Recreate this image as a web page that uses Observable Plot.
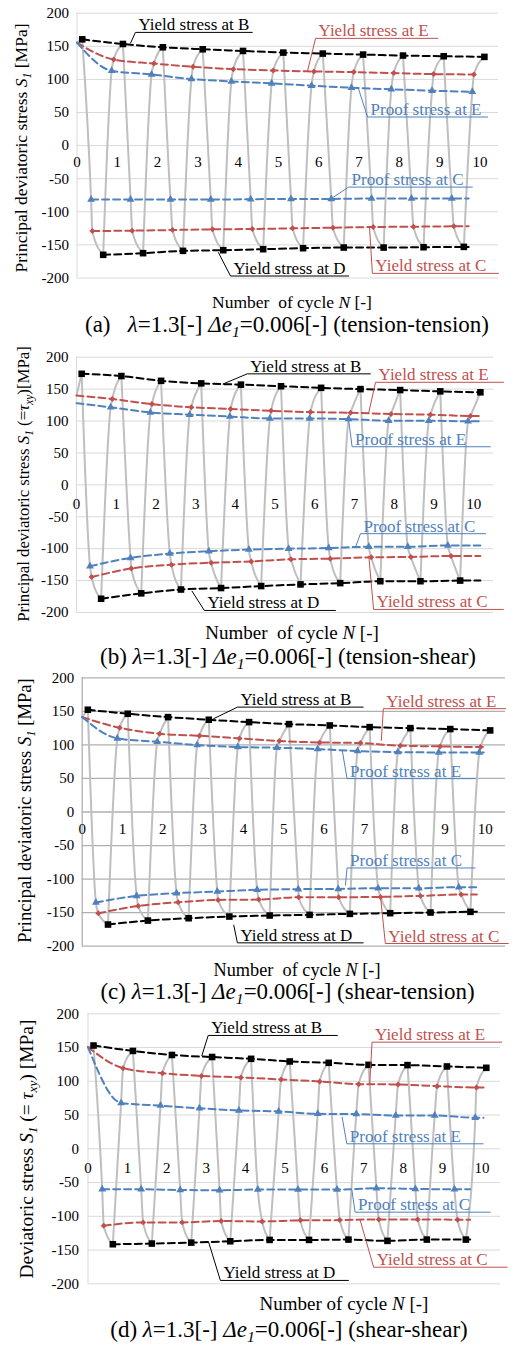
<!DOCTYPE html>
<html><head><meta charset="utf-8">
<script src="https://cdn.jsdelivr.net/npm/d3@7"></script>
<script src="https://cdn.jsdelivr.net/npm/@observablehq/plot@0.6"></script>
<style>
html,body{margin:0;padding:0;background:#fff;}
#chart{width:517px;}
#chart svg{display:block;overflow:visible;}
</style></head><body><div id="chart"></div>
<script>
// ---------- shared tick labels and annotation texts ----------
const cycleTicks = [0,1,2,3,4,5,6,7,8,9,10];
const stressTicks = [-200,-150,-100,-50,0,50,100,150,200];
const noteLabels = {
  B: "Yield stress at B", E: "Yield stress at E", PE: "Proof stress at E",
  PC: "Proof stress at C", C: "Yield stress at C", D: "Yield stress at D"
};

// ---------- panel (a) tension-tension ----------  [cycle N, stress MPa]
const aYieldB = [[0.13,160.5],[1.14,153.5],[2.13,148.5],[3.12,145.5],[4.12,143],[5.12,140.5],[6.1,139],[7.1,137.5],[8.09,136],[9.1,135],[10.11,134]];
const aYieldE = [[0,155.5],[0.91,130],[1.91,124],[2.88,119],[3.88,115.5],[4.87,113.5],[5.88,112],[6.87,111],[7.86,109.5],[8.85,108],[9.85,107.5]];
const aProofE = [[0,155.5],[0.86,113],[1.85,107.5],[2.84,100.5],[3.83,97],[4.83,94],[5.82,90.5],[6.81,87.5],[7.8,85],[8.81,83],[9.81,81.5]];
const aProofC = [[0.35,-81.5],[1.33,-81.5],[2.32,-81.5],[3.32,-81.5],[4.31,-81],[5.31,-80.5],[6.31,-80.5],[7.31,-80],[8.3,-80],[9.3,-80]];
const aYieldC = [[0.38,-129],[1.37,-128.5],[2.37,-127.5],[3.36,-126.5],[4.35,-126],[5.35,-125],[6.35,-124],[7.35,-123],[8.35,-122.5],[9.35,-122]];
const aYieldD = [[0.65,-165],[1.64,-162.5],[2.63,-159],[3.63,-158],[4.62,-156.5],[5.61,-155],[6.62,-154],[7.61,-154],[8.6,-153.5],[9.6,-153]];
const aLineEnds = [9.85, 9.72];
const aYTitle = [["Principal deviatoric stress ",0],["S",1],["1",1,1],[" [MPa]",0]];
const aXTitle = [["Number  of cycle ",0],["N",1],[" [-]",0]];
const aCaption = [["(a)   ",0],["λ",1],["=1.3[-] ",0],["Δe",1],["1",1,1],["=0.006[-] (tension-tension)",0]];

// ---------- panel (b) tension-shear ----------
const bYieldB = [[0.13,174],[1.13,170.5],[2.13,163],[3.14,159],[4.14,157],[5.15,154.5],[6.16,152],[7.15,150],[8.15,148.5],[9.16,146.5],[10.17,145]];
const bYieldE = [[0,140],[0.9,134.5],[1.9,126.5],[2.89,121.5],[3.88,119],[4.9,116],[5.89,114],[6.9,113],[7.92,111],[8.91,110],[9.92,108]];
const bProofE = [[0,128],[0.86,121.5],[1.86,113.5],[2.85,110],[3.86,107],[4.87,104],[5.87,104],[6.85,103],[7.86,100.5],[8.87,100.5],[9.86,99.5]];
const bProofC = [[0.34,-127.5],[1.36,-114.5],[2.35,-107.7],[3.33,-104],[4.34,-101.4],[5.34,-100],[6.35,-99],[7.36,-97],[8.34,-97],[9.35,-95]];
const bYieldC = [[0.38,-144.5],[1.38,-131],[2.39,-125],[3.39,-122],[4.4,-120],[5.4,-116.6],[6.39,-115.6],[7.42,-113.5],[8.42,-113],[9.43,-111.4]];
const bYieldD = [[0.62,-178.5],[1.63,-170],[2.63,-164],[3.64,-161.7],[4.65,-158.6],[5.64,-156],[6.64,-154],[7.65,-151],[8.66,-151],[9.66,-150]];
const bLineEnds = [10.17, 10.17];
const bYTitle = [["Principal deviatoric stress ",0],["S",1],["1",1,1],[" (=",0],["τ",1],["xy",1,1],[")[MPa]",0]];
const bXTitle = [["Number  of cycle ",0],["N",1],[" [-]",0]];
const bCaption = [["(b) ",0],["λ",1],["=1.3[-] ",0],["Δe",1],["1",1,1],["=0.006[-] (tension-shear)",0]];

// ---------- panel (c) shear-tension ----------
const cYieldB = [[0.14,152.4],[1.13,146.4],[2.13,141.4],[3.14,137.5],[4.14,134],[5.13,131],[6.14,129],[7.13,126.5],[8.14,125],[9.13,123.6],[10.12,121.6]];
const cYieldE = [[0,141.4],[0.93,125.5],[1.92,116.6],[2.91,113.6],[3.9,109.7],[4.89,105.7],[5.89,103.7],[6.9,102.7],[7.89,98.8],[8.88,97.8],[9.88,96.8]];
const cProofE = [[0,141.4],[0.87,109.7],[1.86,104.7],[2.85,99.8],[3.86,96.8],[4.83,95.8],[5.84,93.8],[6.83,90.8],[7.83,89.3],[8.84,88.8],[9.85,88.8]];
const cProofC = [[0.34,-135],[1.35,-125],[2.34,-121],[3.35,-118.5],[4.34,-116],[5.36,-115],[6.35,-114.6],[7.34,-113.6],[8.35,-113.6],[9.34,-112]];
const cYieldC = [[0.4,-151],[1.39,-140],[2.38,-134.5],[3.37,-131],[4.38,-130.5],[5.37,-127],[6.36,-127],[7.4,-126.5],[8.39,-125],[9.4,-123]];
const cYieldD = [[0.64,-167.7],[1.63,-161.8],[2.64,-158.3],[3.65,-155.8],[4.65,-154.3],[5.64,-153.3],[6.64,-151.8],[7.64,-150.8],[8.64,-149.8],[9.63,-148.8]];
const cLineEnds = [9.96, 9.79];
const cYTitle = [["Principal deviatoric stress ",0],["S",1],["1",1,1],[" [MPa]",0]];
const cXTitle = [["Number  of cycle ",0],["N",1],[" [-]",0]];
const cCaption = [["(c) ",0],["λ",1],["=1.3[-] ",0],["Δe",1],["1",1,1],["=0.006[-] (shear-tension)",0]];

// ---------- panel (d) shear-shear ----------
const dYieldB = [[0.14,153],[1.14,145],[2.13,139],[3.15,136],[4.14,133.3],[5.12,129.4],[6.11,127.4],[7.12,124.4],[8.11,124],[9.11,122],[10.11,120]];
const dYieldE = [[0,150.6],[0.89,119.5],[1.89,112],[2.88,108],[3.88,105.7],[4.9,102.7],[5.88,99.8],[6.87,95.8],[7.87,95.3],[8.86,92.8],[9.86,90.9]];
const dProofE = [[0,150.6],[0.84,68],[1.84,64],[2.83,60],[3.83,56.8],[4.84,55.3],[5.83,51.8],[6.81,51.4],[7.81,49.4],[8.8,49.4],[9.83,46]];
const dProofC = [[0.36,-60],[1.35,-60],[2.34,-61],[3.34,-61.4],[4.31,-60.4],[5.33,-60.4],[6.32,-60.4],[7.32,-58.5],[8.31,-59.4],[9.3,-60]];
const dYieldC = [[0.4,-114],[1.4,-109],[2.39,-109],[3.38,-107],[4.42,-107.6],[5.39,-106],[6.39,-105.6],[7.38,-104.6],[8.37,-104.6],[9.38,-105]];
const dYieldD = [[0.63,-141.4],[1.62,-140.4],[2.62,-139],[3.61,-137],[4.61,-135],[5.61,-135],[6.61,-134.5],[7.6,-136.4],[8.6,-134.5],[9.59,-134.5]];
const dLineEnds = [10.04, 9.7];
const dYTitle = [["Deviatoric stress ",0],["S",1],["1",1,1],[" (= ",0],["τ",1],["xy",1,1],[") [MPa]",0]];
const dXTitle = [["Number of cycle ",0],["N",1],[" [-]",0]];
const dCaption = [["(d) ",0],["λ",1],["=1.3[-] ",0],["Δe",1],["1",1,1],["=0.006[-] (shear-shear)",0]];

// ---------- colours ----------
const RED = "#c0504d", BLUE = "#4f81bd", BLACK = "#000000", GRAY = "#bfbfbf";
const noteColors = {B: BLACK, E: RED, PE: BLUE, PC: BLUE, C: RED, D: BLACK};

// ---------- layout (annotation anchors in data coordinates: underline x1..x2 at y, leader to tx,ty) ----------
const panels = [
  {B:aYieldB,E:aYieldE,PE:aProofE,PC:aProofC,C:aYieldC,D:aYieldD,ends:aLineEnds,yTitle:aYTitle,xTitle:aXTitle,caption:aCaption,
   height:340, mt:12.7, mb:62.5, ml:76.5, mr:19, xMax:10.46, grid:"#d9d9d9", gw:1, tickDy:17, tickPad:8,
   yt:{x:27,y:148,s:17.5}, xt:{x:292,y:308,s:17.5}, cap:{x:287,y:332,s:23},
   notes:{B:[1.45,4.35,171,1.33,155],E:[5.92,8.95,162,5.72,112.5],PE:[7.21,10.19,43.2,6.98,87],PC:[6.74,9.81,-62.7,6.34,-78.8],C:[7.33,10.46,-193,7.26,-124],D:[3.81,6.74,-197,3.51,-161.6]}},
  {B:bYieldB,E:bYieldE,PE:bProofE,PC:bProofC,C:bYieldC,D:bYieldD,ends:bLineEnds,yTitle:bYTitle,xTitle:bXTitle,caption:bCaption,
   height:330, mt:16.7, mb:58, ml:76, mr:24, xMax:10.5, grid:"#d9d9d9", gw:1, tickDy:19, tickPad:8,
   yt:{x:29,y:144,s:16.8}, xt:{x:292,y:299,s:19}, cap:{x:288,y:323.5,s:23},
   notes:{B:[4.3,7.4,173.9,3.69,158],E:[7.53,10.75,160.7,7.36,113.5],PE:[6.94,10.42,59.7,6.85,103],PC:[7.15,10.3,-76.5,7.02,-98.5],C:[7.48,10.75,-195.2,7.36,-111.5],D:[3.22,6.52,-196.8,2.91,-166.7]}},
  {B:cYieldB,E:cYieldE,PE:cProofE,PC:cProofC,C:cYieldC,D:cYieldD,ends:cLineEnds,yTitle:cYTitle,xTitle:cXTitle,caption:cCaption,
   height:335, mt:7.3, mb:59.3, ml:81.7, mr:12, xMax:10.5, grid:"#b0b0b0", gw:1.3, tickDy:17.5, tickPad:8,
   yt:{x:31,y:140.5,s:18.6}, xt:{x:297,y:305.7,s:18.3}, cap:{x:287.5,y:328.5,s:23},
   notes:{B:[3.85,6.97,156.3,3.26,139],E:[7.47,10.5,154,7.42,106.7],PE:[6.57,9.75,49.7,6.45,91.9],PC:[6.57,9.75,-83.4,6.53,-109],C:[7.52,10.57,-196,7.4,-126.5],D:[3.85,6.97,-195,3.76,-168.7]}},
  {B:dYieldB,E:dYieldE,PE:dProofE,PC:dProofC,C:dYieldC,D:dYieldD,ends:dLineEnds,yTitle:dYTitle,xTitle:dXTitle,caption:dCaption,
   height:340, mt:8.3, mb:61.7, ml:87.5, mr:17, xMax:10.47, grid:"#d9d9d9", gw:1, tickDy:19, tickPad:9,
   yt:{x:33,y:144,s:19.5}, xt:{x:344,y:305,s:19}, cap:{x:289,y:332,s:23},
   notes:{B:[3.05,6.33,167.9,2.89,138],E:[7.21,10.5,158,7.15,96.3],PE:[6.57,10.03,7.4,6.45,46.8],PC:[6.78,10.21,-93.9,6.7,-61.8],C:[7.25,10.64,-175.4,6.91,-106],D:[3.36,6.61,-195,3.06,-138]}}
];

function withEnd(arr, end) {
  const last = arr[arr.length - 1];
  return end > last[0] + 0.01 ? [...arr, [end, last[1]]] : arr;
}

function grayPath(p) {
  const out = []; let z = 0;
  const push = pts => { pts.forEach(q => out.push({x: q[0], y: q[1], z})); z++; };
  push([p.E[0], p.B[0]]);
  for (let i = 0; i < p.D.length; i++) {
    push([p.B[i], p.PC[i], p.C[i], p.D[i]]);
    push([p.D[i], p.PE[i + 1], p.E[i + 1], p.B[i + 1]]);
  }
  return out;
}

function richText(sel, segs, size) {
  const sub = size * 0.68, shift = size * 0.22;
  let prevSub = false;
  segs.forEach(([t, it, isSub]) => {
    const ts = sel.append("tspan").text(t).style("font-style", it ? "italic" : "normal");
    if (isSub) { ts.attr("font-size", sub); if (!prevSub) ts.attr("dy", shift); }
    else if (prevSub) ts.attr("dy", -shift);
    prevSub = !!isSub;
  });
}

const X = d => d[0], Y = d => d[1];
const container = document.getElementById("chart");

panels.forEach(p => {
  const dash = "7,4";
  const marks = [
    Plot.gridY(stressTicks, {stroke: p.grid, strokeOpacity: 1, strokeWidth: p.gw}),
    Plot.ruleX([0], {y1: -200, y2: 200, stroke: p.grid, strokeWidth: p.gw}),
    Plot.axisY(stressTicks, {tickSize: 0, tickPadding: p.tickPad, fontSize: 15, tickFormat: d => String(d)}),
    Plot.text(cycleTicks, {x: d => d, y: 0, dy: p.tickDy, text: d => String(d), fontSize: 15, lineAnchor: "middle"}),
    Plot.line(grayPath(p), {x: "x", y: "y", z: "z", curve: "monotone-x", stroke: GRAY, strokeWidth: 2}),
    Plot.line(p.B, {x: X, y: Y, curve: "monotone-x", stroke: BLACK, strokeWidth: 2, strokeDasharray: dash}),
    Plot.line(withEnd(p.E, p.ends[0]), {x: X, y: Y, curve: "monotone-x", stroke: RED, strokeWidth: 2, strokeDasharray: dash}),
    Plot.line(withEnd(p.PE, p.ends[0]), {x: X, y: Y, curve: "monotone-x", stroke: BLUE, strokeWidth: 2, strokeDasharray: dash}),
    Plot.line(withEnd(p.PC, p.ends[1]), {x: X, y: Y, curve: "monotone-x", stroke: BLUE, strokeWidth: 2, strokeDasharray: dash}),
    Plot.line(withEnd(p.C, p.ends[1]), {x: X, y: Y, curve: "monotone-x", stroke: RED, strokeWidth: 2, strokeDasharray: dash}),
    Plot.line(withEnd(p.D, p.ends[1]), {x: X, y: Y, curve: "monotone-x", stroke: BLACK, strokeWidth: 2, strokeDasharray: dash}),
    Plot.dot(p.B, {x: X, y: Y, symbol: "square", r: 3.7, fill: BLACK}),
    Plot.dot(p.D, {x: X, y: Y, symbol: "square", r: 3.7, fill: BLACK}),
    Plot.dot(p.E.slice(1), {x: X, y: Y, symbol: "diamond2", r: 2.7, fill: RED}),
    Plot.dot(p.C, {x: X, y: Y, symbol: "diamond2", r: 2.7, fill: RED}),
    Plot.dot(p.PE.slice(1), {x: X, y: Y, symbol: "triangle", r: 2.9, fill: BLUE}),
    Plot.dot(p.PC, {x: X, y: Y, symbol: "triangle", r: 2.9, fill: BLUE})
  ];
  Object.keys(noteLabels).forEach(k => {
    const [x1, x2, y, tx, ty] = p.notes[k];
    marks.push(Plot.line([[tx, ty], [x1, y], [x2, y]], {x: X, y: Y, stroke: noteColors[k], strokeWidth: 1}));
    marks.push(Plot.text([noteLabels[k]], {x: () => x1, y: () => y, text: d => d, textAnchor: "start", lineAnchor: "bottom", dx: 3, dy: -2, fill: noteColors[k], fontSize: 17}));
  });
  const svg = Plot.plot({
    width: 517, height: p.height,
    marginTop: p.mt, marginBottom: p.mb, marginLeft: p.ml, marginRight: p.mr,
    x: {domain: [0, p.xMax], axis: null},
    y: {domain: [-200, 200], label: null},
    style: {fontFamily: "'Liberation Serif', 'Times New Roman', serif", fontSize: "15px", background: "white", color: "black"},
    marks
  });
  container.appendChild(svg);
  const s = d3.select(svg);
  const yt = s.append("text").attr("transform", `translate(${p.yt.x},${p.yt.y}) rotate(-90)`)
    .attr("text-anchor", "middle").attr("font-size", p.yt.s).attr("fill", "black").style("white-space", "pre");
  richText(yt, p.yTitle, p.yt.s);
  const xt = s.append("text").attr("x", p.xt.x).attr("y", p.xt.y)
    .attr("text-anchor", "middle").attr("font-size", p.xt.s).attr("fill", "black").style("white-space", "pre");
  richText(xt, p.xTitle, p.xt.s);
  const cp = s.append("text").attr("x", p.cap.x).attr("y", p.cap.y)
    .attr("text-anchor", "middle").attr("font-size", p.cap.s).attr("fill", "black").style("white-space", "pre");
  richText(cp, p.caption, p.cap.s);
});
</script>
</body></html>
